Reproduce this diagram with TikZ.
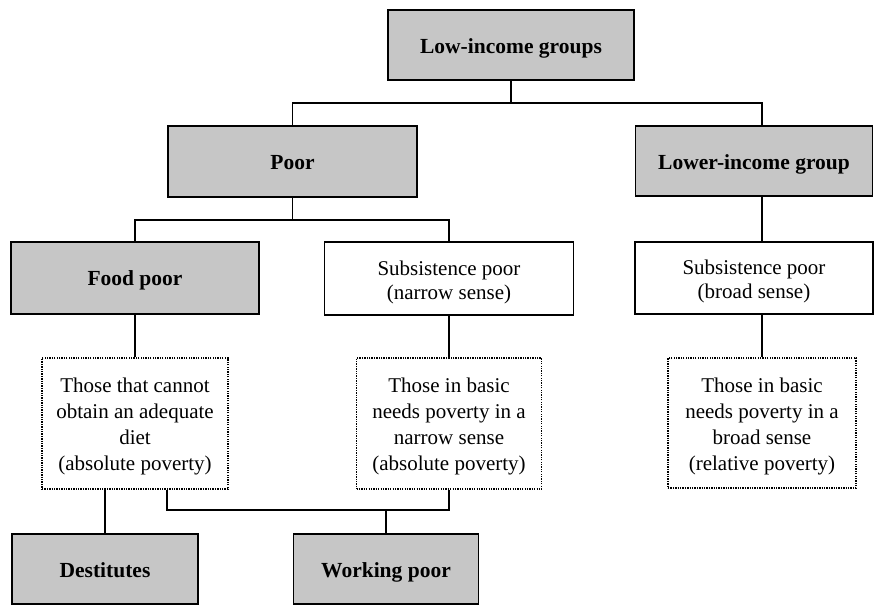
\documentclass[tikz,border=0pt]{standalone}
\usepackage{fontspec}
\setmainfont{Liberation Serif}
\definecolor{boxgray}{RGB}{198,198,198}
\newcommand{\lowtxt}[2]{\raisebox{-#1}[\height][\depth]{\begin{tabular}{@{}c@{}}#2\end{tabular}}}
\tikzset{
  base/.style={draw=black, line width=1.4pt, inner sep=0pt, align=center, font=\fontsize{21}{24}\selectfont},
  graybox/.style={base, fill=boxgray, font=\fontsize{21.5}{24}\selectfont\bfseries},
  whitebox/.style={base, fill=white},
  dotbox/.style={base, line width=1.3pt, dash pattern=on 1.3pt off 1.1pt, font=\fontsize{21}{26}\selectfont},
  link/.style={draw=black, line width=1.4pt}
}
\begin{document}
\begin{tikzpicture}[x=1pt, y=-1pt]
\useasboundingbox (0,0) rectangle (875,606);
\node[graybox, minimum width=246, minimum height=70] (top) at (511,45) {\lowtxt{3.5pt}{Low-income groups}};
\node[graybox, minimum width=249, minimum height=71] (poor) at (292.5,161.5) {\lowtxt{3.5pt}{Poor}};
\node[graybox, minimum width=237, minimum height=70] (lower) at (754,161) {\lowtxt{4pt}{Lower-income group}};
\node[graybox, minimum width=248, minimum height=72] (food) at (135,278) {\lowtxt{2.5pt}{Food poor}};
\node[whitebox, minimum width=249, minimum height=73] (subn) at (449,278.5) {\lowtxt{4pt}{Subsistence poor\\(narrow sense)}};
\node[whitebox, minimum width=238, minimum height=72] (subb) at (754,278) {\lowtxt{4pt}{Subsistence poor\\(broad sense)}};
\node[dotbox, minimum width=186, minimum height=131] (dfood) at (135,423.5) {\lowtxt{3pt}{Those that cannot\\obtain an adequate\\diet\\(absolute poverty)}};
\node[dotbox, minimum width=185, minimum height=131] (dnarrow) at (449,423.5) {\lowtxt{3pt}{Those in basic\\needs poverty in a\\narrow sense\\(absolute poverty)}};
\node[dotbox, minimum width=188, minimum height=130] (dbroad) at (762,423) {\lowtxt{3pt}{Those in basic\\needs poverty in a\\broad sense\\(relative poverty)}};
\node[graybox, minimum width=186, minimum height=70] (dest) at (105,569) {\lowtxt{4pt}{Destitutes}};
\node[graybox, minimum width=185, minimum height=70] (work) at (386,569) {\lowtxt{4pt}{Working poor}};
\coordinate (h1) at (0,103);
\coordinate (h2) at (0,220);
\coordinate (h3) at (0,510);
% level 1
\draw[link] (top.south) -- (top.south |- h1);
\draw[link] (poor.north) |- ([xshift=8pt]lower.north |- h1) -- ([xshift=8pt]lower.north);
% poor branch
\draw[link] (poor.south) -- (poor.south |- h2);
\draw[link] (food.north) |- (subn.north |- h2) -- (subn.north);
% lower branch
\draw[link] ([xshift=8pt]lower.south) -- ([xshift=8pt]subb.north);
\draw[link] ([xshift=8pt]subb.south) -- (dbroad.north);
% to dotted boxes
\draw[link] (food.south) -- (dfood.north);
\draw[link] (subn.south) -- (dnarrow.north);
% bottom
\draw[link] (dest.north) -- (dest.north |- dfood.south);
\draw[link] ([xshift=32pt]dfood.south) |- (dnarrow.south |- h3) -- (dnarrow.south);
\draw[link] (work.north) -- (work.north |- h3);
\end{tikzpicture}
\end{document}
